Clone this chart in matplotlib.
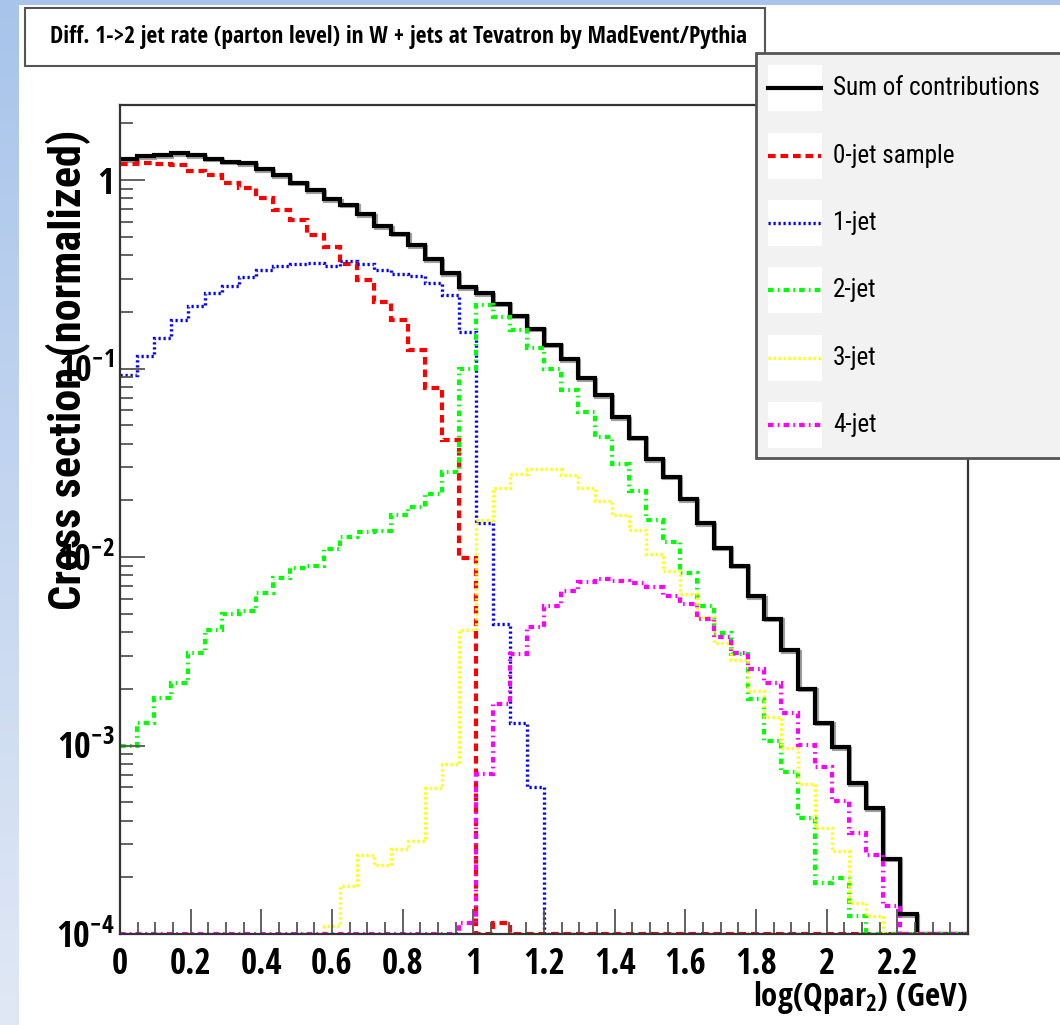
import os
import matplotlib
matplotlib.use('Agg')
import matplotlib.pyplot as plt
import numpy as np
from matplotlib import font_manager as fm
from matplotlib import ticker
from matplotlib.patches import Rectangle
from matplotlib.lines import Line2D
from matplotlib.transforms import offset_copy

# 50 bins of log(Qpar_2) from 0 to 2.4
edges = np.linspace(0, 2.4, 51)

sum_contrib = [1.29, 1.34, 1.35, 1.39, 1.35, 1.30, 1.25, 1.23, 1.14, 1.06,
               0.97, 0.88, 0.79, 0.74, 0.66, 0.57, 0.52, 0.45, 0.38, 0.32,
               0.27, 0.25, 0.22, 0.19, 0.163, 0.134, 0.112, 0.089, 0.072, 0.055,
               0.043, 0.033, 0.0267, 0.0202, 0.0151, 0.0112, 0.0090, 0.0062, 0.0047, 0.0032,
               0.0020, 0.00132, 0.00098, 0.00063, 0.000465, 0.00025, 0.000127, 0, 0, 0]
jet0 = [1.21, 1.23, 1.22, 1.20, 1.12, 1.06, 0.97, 0.91, 0.80, 0.69,
        0.61, 0.51, 0.44, 0.36, 0.295, 0.226, 0.181, 0.126, 0.0785, 0.042,
        0.0099, 0, 0.000115, 0, 0, 0, 0, 0, 0, 0,
        0, 0, 0, 0, 0, 0, 0, 0, 0, 0,
        0, 0, 0, 0, 0, 0, 0, 0, 0, 0]
jet1 = [0.092, 0.116, 0.146, 0.18, 0.215, 0.252, 0.274, 0.307, 0.333, 0.351,
        0.358, 0.364, 0.351, 0.373, 0.36, 0.333, 0.316, 0.31, 0.283, 0.245,
        0.157, 0.0152, 0.0044, 0.00131, 0.000605, 0, 0, 0, 0, 0,
        0, 0, 0, 0, 0, 0, 0, 0, 0, 0,
        0, 0, 0, 0, 0, 0, 0, 0, 0, 0]
jet2 = [0.001, 0.00131, 0.00178, 0.00214, 0.0031, 0.0041, 0.005, 0.0052, 0.00647, 0.0077,
        0.0087, 0.0090, 0.011, 0.0128, 0.0136, 0.0138, 0.0167, 0.0185, 0.0215, 0.0284,
        0.099, 0.217, 0.188, 0.161, 0.128, 0.099, 0.077, 0.059, 0.0435, 0.0311,
        0.0225, 0.0158, 0.012, 0.0082, 0.0055, 0.00394, 0.00306, 0.00177, 0.00106, 0.00072,
        0.00041, 0.000187, 0.000197, 0.000124, 0, 0, 0, 0, 0, 0]
jet3 = [0, 0, 0, 0, 0, 0, 0, 0, 0, 0,
        0, 0, 0.00011, 0.00018, 0.000262, 0.000232, 0.000281, 0.00031, 0.000593, 0.000798,
        0.0041, 0.0158, 0.0231, 0.0276, 0.0292, 0.0292, 0.0272, 0.0231, 0.0199, 0.0167,
        0.0139, 0.0104, 0.00846, 0.0064, 0.00483, 0.00348, 0.00284, 0.00195, 0.00141, 0.00097,
        0.000625, 0.000363, 0.000277, 0.000146, 0.000124, 0, 0, 0, 0, 0]
jet4 = [0, 0, 0, 0, 0, 0, 0, 0, 0, 0,
        0, 0, 0, 0, 0, 0, 0, 0, 0, 0,
        0.000115, 0.00071, 0.00167, 0.00306, 0.00427, 0.0055, 0.0066, 0.0074, 0.0076, 0.0075,
        0.0073, 0.0069, 0.0062, 0.0056, 0.0047, 0.00378, 0.00308, 0.00254, 0.00215, 0.00148,
        0.00101, 0.00077, 0.00051, 0.000342, 0.000262, 0.000141, 0, 0, 0, 0]

labels = ['Sum of contributions', '0-jet sample', '1-jet', '2-jet', '3-jet', '4-jet']
title = 'Diff. 1->2 jet rate (parton level) in W + jets at Tevatron by MadEvent/Pythia'
ytitle = 'Cross section (normalized)'

plt.rcParams['font.family'] = ['Liberation Sans', 'DejaVu Sans']
plt.rcParams['lines.scale_dashes'] = False

W, H = 1060, 1025
fig = plt.figure(figsize=(W / 100, H / 100), dpi=100)
rend = fig.canvas.get_renderer()

SANS = ('Liberation Sans', 'Arial', 'Arimo', 'DejaVu Sans', 'Noto Sans', 'Roboto',
        'Open Sans', 'Lato', 'Inter')
OK_SUFFIX = ('', ' Narrow', ' Condensed', ' SemiCondensed', ' Semi Condensed',
             ' ExtraCondensed', ' Extra Condensed')


def face_list(bold):
    # plain Helvetica-like sans faces, including any narrow / condensed cuts
    out = []
    for f in fm.fontManager.ttflist:
        base = os.path.basename(f.fname)
        if not any(f.name == s + suf for s in SANS for suf in OK_SUFFIX):
            continue
        if f.style != 'normal' or 'Italic' in base or 'Oblique' in base:
            continue
        w = f.weight if isinstance(f.weight, int) else fm.weight_dict.get(f.weight, 400)
        if bold and not (600 <= w < 800):
            continue
        if not bold and not (400 <= w < 500):
            continue
        out.append(f.fname)
    return sorted(set(out))


def pick_face(bold, sample, target_w, cap_h):
    # the face whose natural width is closest to the picture's text
    want = target_w / (cap_h / 0.71)
    best, best_err = None, None
    for fname in face_list(bold):
        try:
            t = fig.text(0, 0, sample, fontproperties=fm.FontProperties(fname=fname), fontsize=72)
            w = t.get_window_extent(rend).width / 100.0
            t.remove()
        except Exception:
            continue
        err = abs(np.log(w / want))
        if best_err is None or err < best_err:
            best, best_err = fname, err
    if best is None:
        return fm.FontProperties(family='Liberation Sans', weight='bold' if bold else 'normal')
    return fm.FontProperties(fname=best)


fp_bold = pick_face(True, title, 700, 19)
fp_reg = pick_face(False, labels[0], 207, 21.5)
fp_ytitle = pick_face(True, ytitle, 480, 31)


def fx(x):
    return x / W


def fy(y):
    return 1 - y / H


# light blue slide background
bg = fig.add_axes([0, 0, 1, 1], zorder=-10)
top_c = np.array([0.66, 0.77, 0.92])
bot_c = np.array([0.88, 0.91, 0.96])
t = np.linspace(0, 1, 200)[:, None]
grad = (top_c * (1 - t) + bot_c * t)[:, None, :]
bg.imshow(grad, extent=[0, 1, 0, 1], aspect='auto')
bg.axis('off')
fig.patches.append(Rectangle((fx(19), 0), 1, fy(5), transform=fig.transFigure,
                             facecolor='white', edgecolor='none', zorder=-5))

ax = fig.add_axes([fx(120), fy(934), fx(968) - fx(120), fy(105) - fy(934)])
ax.set_yscale('log')
ymin = 1e-4
ax.set_ylim(ymin, 2.5)
ax.set_xlim(0, 2.4)

styles = [
    dict(color='black', lw=3.0, linestyle='-'),
    dict(color='red', lw=3.0, linestyle=(0, (5.5, 3.5))),
    dict(color='blue', lw=2.4, linestyle=(0, (1.6, 2.0))),
    dict(color='#00ff00', lw=3.0, linestyle=(0, (4.0, 3.0, 1.2, 3.0))),
    dict(color='#ffff00', lw=2.4, linestyle=(0, (1.6, 2.0))),
    dict(color='#ff00ff', lw=3.0, linestyle=(0, (4.0, 3.0, 1.2, 3.0))),
]
series = [sum_contrib, jet0, jet1, jet2, jet3, jet4]

shadow = offset_copy(ax.transData, fig=fig, x=1.2, y=-1.5, units='dots')
ax.stairs(np.maximum(sum_contrib, ymin), edges, baseline=None,
          color='#a0a0a0', lw=3.0, transform=shadow)
for vals, st in zip(series, styles):
    ax.stairs(np.maximum(vals, ymin), edges, baseline=None, **st)

for s in ax.spines.values():
    s.set_color('#333333')
    s.set_linewidth(1.6)

ax.xaxis.set_major_locator(ticker.FixedLocator(np.arange(0, 2.21, 0.2)))
ax.xaxis.set_minor_locator(ticker.FixedLocator(np.arange(0, 2.39, 0.05)))
ax.xaxis.set_major_formatter(ticker.FuncFormatter(
    lambda v, p: '%d' % round(v) if abs(v - round(v)) < 1e-6 else '%.1f' % v))
ax.yaxis.set_major_locator(ticker.FixedLocator([1e-4, 1e-3, 1e-2, 1e-1, 1]))
ax.yaxis.set_major_formatter(ticker.FixedFormatter(
    [r'$\mathregular{10^{-4}}$', r'$\mathregular{10^{-3}}$', r'$\mathregular{10^{-2}}$',
     r'$\mathregular{10^{-1}}$', '1']))
ax.yaxis.set_minor_locator(ticker.LogLocator(base=10, subs=np.arange(2, 10), numticks=20))
ax.yaxis.set_minor_formatter(ticker.NullFormatter())

ax.tick_params(which='both', direction='in', top=False, right=False,
               color='#555555', width=1.3)
ax.tick_params(which='major', length=18)
ax.tick_params(which='minor', length=9)
ax.tick_params(axis='x', pad=9)
ax.tick_params(axis='y', pad=4)

fig.canvas.draw()
for lab in ax.get_xticklabels():
    lab.set_fontproperties(fp_bold.copy())
    lab.set_fontsize(25)
for lab in ax.get_yticklabels():
    lab.set_fontproperties(fp_bold.copy())
    lab.set_fontsize(26)
fig.canvas.draw()


def fit(txt, target, vertical=False):
    bb = txt.get_window_extent(rend)
    size = bb.height if vertical else bb.width
    txt.set_fontsize(txt.get_fontsize() * target / size)


ylab = fig.text(fx(68), fy(370), ytitle, rotation=90,
                ha='center', va='center', fontproperties=fp_ytitle.copy())
ylab.set_fontsize(30)
fit(ylab, 480, vertical=True)

xlab = fig.text(fx(968), fy(1006), r'log(Qpar$\mathregular{_2}$) (GeV)',
                ha='right', va='baseline', fontproperties=fp_bold.copy())
xlab.set_fontsize(24)
fit(xlab, 215)

# title box
fig.patches.append(Rectangle((fx(25), fy(66)), fx(765) - fx(25), fy(8) - fy(66),
                             transform=fig.transFigure, facecolor='white',
                             edgecolor='#555555', lw=1.5, zorder=5))
ttl = fig.text(fx(50), fy(37), title, ha='left', va='center',
               fontproperties=fp_bold.copy(), zorder=7)
ttl.set_fontsize(18)
fit(ttl, 696)

# legend box
fig.patches.append(Rectangle((fx(756), fy(458)), fx(1062) - fx(756), fy(53) - fy(458),
                             transform=fig.transFigure, facecolor='#f2f2f2',
                             edgecolor='#555555', lw=2.0, zorder=5))
entry_y = [88, 156, 223, 290, 358, 425]
leg_texts = []
for yy, lab, st in zip(entry_y, labels, styles):
    fig.patches.append(Rectangle((fx(768), fy(yy + 23)), fx(822) - fx(768),
                                 fy(yy - 23) - fy(yy + 23),
                                 transform=fig.transFigure, facecolor='white',
                                 edgecolor='none', zorder=6))
    fig.lines.append(Line2D([fx(768), fx(821)], [fy(yy), fy(yy)],
                            transform=fig.transFigure, zorder=7, **st))
    tx = fig.text(fx(833), fy(yy), lab, ha='left', va='center',
                  fontproperties=fp_reg.copy(), zorder=8)
    tx.set_fontsize(20)
    leg_texts.append(tx)
fit(leg_texts[0], 207)
for tx in leg_texts[1:]:
    tx.set_fontsize(leg_texts[0].get_fontsize())

fig.savefig('out.png', dpi=100)
